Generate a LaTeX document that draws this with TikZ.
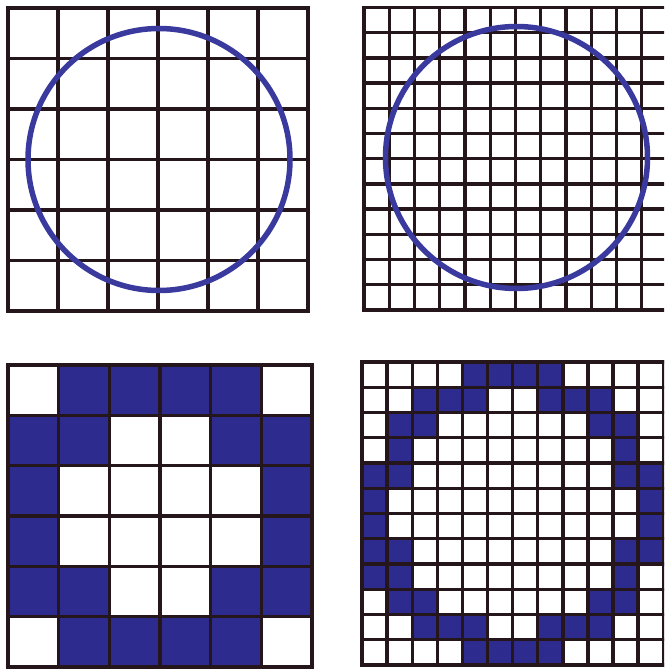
\documentclass[tikz,border=0pt]{standalone}
\definecolor{gridc}{HTML}{24161A}
\definecolor{fillc}{HTML}{2E2B8E}
\definecolor{circc}{HTML}{3A3A9E}
\tikzset{
  gridline/.style={draw=gridc, line width=3.4pt, line cap=rect},
  cellfill/.style={fill=fillc},
  ring/.style={draw=circc, line width=5.5pt}
}
\begin{document}
\begin{tikzpicture}[x=1pt,y=-1pt]
\useasboundingbox (0,0) rectangle (664,669);
\clip (0,0) rectangle (664,669);
% top-left: 6x6 grid with circle
\begin{scope}[shift={(8pt,-8pt)}, x=50pt, y=-50.5pt]
  \foreach \i in {0,...,6} {
    \draw[gridline] (\i,0) -- (\i,6);
    \draw[gridline] (0,\i) -- (6,\i);
  }
\end{scope}
\draw[ring] (159,159.5) circle[radius=131];
% top-right: 12x12 grid with circle
\begin{scope}[shift={(364pt,-7.5pt)}, x=25.25pt, y=-25.2pt]
  \foreach \i in {0,...,12} {
    \draw[gridline] (\i,0) -- (\i,12);
    \draw[gridline] (0,\i) -- (12,\i);
  }
\end{scope}
\draw[ring] (516.5,157.5) circle[radius=131];
% bottom-left: 6x6 filled
\begin{scope}[shift={(8pt,-365pt)}, x=50.67pt, y=-50.33pt]
  \foreach \c/\r in {1/0,2/0,3/0,4/0, 0/1,1/1,4/1,5/1, 0/2,5/2, 0/3,5/3,
                     0/4,1/4,4/4,5/4, 1/5,2/5,3/5,4/5}
    \fill[cellfill] (\c,\r) rectangle ++(1,1);
  \foreach \i in {0,...,6} {
    \draw[gridline] (\i,0) -- (\i,6);
    \draw[gridline] (0,\i) -- (6,\i);
  }
\end{scope}
% bottom-right: 12x12 filled
\begin{scope}[shift={(362pt,-362pt)}, x=25.1pt, y=-25.25pt]
  \foreach \c/\r in {4/0,5/0,6/0,7/0,
                     2/1,3/1,4/1,7/1,8/1,9/1,
                     1/2,2/2,9/2,10/2,
                     1/3,10/3,
                     0/4,1/4,10/4,11/4,
                     0/5,11/5,
                     0/6,11/6,
                     0/7,1/7,10/7,11/7,
                     0/8,1/8,10/8,
                     1/9,2/9,9/9,10/9,
                     2/10,3/10,4/10,7/10,8/10,9/10,
                     4/11,5/11,6/11,7/11}
    \fill[cellfill] (\c,\r) rectangle ++(1,1);
  \foreach \i in {0,...,12} {
    \draw[gridline] (\i,0) -- (\i,12);
    \draw[gridline] (0,\i) -- (12,\i);
  }
\end{scope}
\end{tikzpicture}
\end{document}
